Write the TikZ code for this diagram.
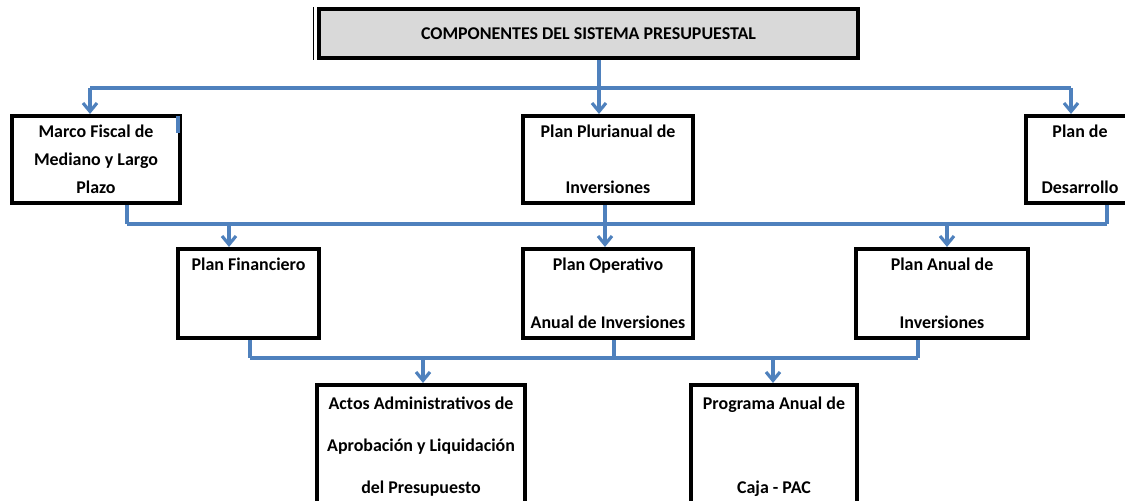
\documentclass[tikz,border=0pt]{standalone}
\usepackage{fontspec}
\setmainfont{Carlito}
\usetikzlibrary{arrows.meta}
\definecolor{azul}{RGB}{79,129,189}
\definecolor{grisclaro}{RGB}{217,217,217}
\tikzset{
    caja/.style={draw=black, line width=2.3pt, inner sep=0pt, align=center,
        font=\bfseries\fontsize{10.2}{15.9}\selectfont},
    linea/.style={draw=azul, line width=1.8pt},
    flecha/.style={linea, -{Straight Barb[length=1.7mm,width=2.8mm]}}
}
\newcommand\Caja[6]{%
    \node[caja, minimum width=#4*0.02cm, minimum height=#5*0.02cm] (#1) at (#2,#3) {#6};
}

\begin{document}
\begin{tikzpicture}[x=0.02cm, y=-0.02cm]
    \useasboundingbox (0,0) rectangle (1125,500);
    \clip (0,0) rectangle (1125,500);
    % cabecera
    \node[caja, fill=grisclaro, line width=2pt, minimum width=539*0.02cm, minimum height=49*0.02cm] (title) at (588.5,33.5) {COMPONENTES DEL SISTEMA PRESUPUESTAL};
    \draw[line width=0.6pt] ([xshift=-0.08cm]title.north west) -- ([xshift=-0.08cm]title.south west);
    % primer nivel
    \Caja{marco}{96}{159.5}{168}{87}{Marco Fiscal de\\Mediano y Largo\\Plazo}
    \Caja{plurianual}{608}{159.5}{170}{87}{Plan Plurianual de\\[16pt]Inversiones}
    \Caja{desarrollo}{1080}{159.5}{108}{87}{Plan de\\[16pt]Desarrollo}
    % segundo nivel
    \Caja{financiero}{248.5}{293.5}{141}{89}{Plan Financiero\\[17.1pt]\phantom{l}}
    \Caja{operativo}{608}{293.5}{170}{89}{Plan Operativo\\[17.1pt]Anual de Inversiones}
    \Caja{anual}{942}{293.5}{172}{89}{Plan Anual de\\[17.1pt]Inversiones}
    % tercer nivel
    \Caja{actos}{421}{447}{208}{124}{Actos Administrativos de\\[8pt]Aprobaci\'on y Liquidaci\'on\\[8pt]del Presupuesto}
    \Caja{programa}{774}{447}{166}{124}{Programa Anual de\\[32pt]Caja - PAC}
    % lineas de union
    \coordinate (a1) at (90,88);
    \coordinate (a2) at (599,88);
    \coordinate (a3) at (1071,88);
    \draw[linea] (a1) -- (a3);
    \draw[linea] (title.south -| a2) -- (a2);
    \draw[flecha] (a1) -- (a1 |- marco.north);
    \draw[flecha] (a2) -- (a2 |- plurianual.north);
    \draw[flecha] (a3) -- (a3 |- desarrollo.north);
    \draw[linea] (178,116) -- (178,133);
    \coordinate (b1) at (127,224);
    \coordinate (b2) at (229,224);
    \coordinate (b3) at (605,224);
    \coordinate (b4) at (947,224);
    \coordinate (b5) at (1107,224);
    \draw[linea] (b1) -- (b5);
    \draw[linea] (marco.south -| b1) -- (b1);
    \draw[linea] (desarrollo.south -| b5) -- (b5);
    \draw[flecha] (plurianual.south -| b3) -- (b3 |- operativo.north);
    \draw[flecha] (b2) -- (b2 |- financiero.north);
    \draw[flecha] (b4) -- (b4 |- anual.north);
    \coordinate (c1) at (250,358);
    \coordinate (c2) at (423,358);
    \coordinate (c3) at (614,358);
    \coordinate (c4) at (773,358);
    \coordinate (c5) at (918,358);
    \draw[linea] (c1) -- (c5);
    \draw[linea] (financiero.south -| c1) -- (c1);
    \draw[linea] (operativo.south -| c3) -- (c3);
    \draw[linea] (anual.south -| c5) -- (c5);
    \draw[flecha] (c2) -- (c2 |- actos.north);
    \draw[flecha] (c4) -- (c4 |- programa.north);
\end{tikzpicture}
\end{document}
